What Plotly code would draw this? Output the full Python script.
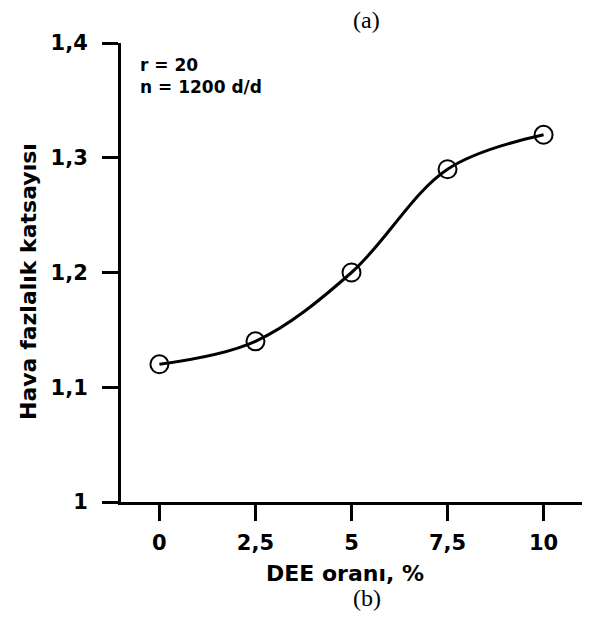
import plotly.graph_objects as go

# Data
dee_ratio = [0, 2.5, 5, 7.5, 10]
air_excess = [1.12, 1.14, 1.20, 1.29, 1.32]
x_tick_vals = [0, 2.5, 5, 7.5, 10]
x_tick_text = ["0", "2,5", "5", "7,5", "10"]
y_tick_vals = [1.0, 1.1, 1.2, 1.3, 1.4]
y_tick_text = ["1", "1,1", "1,2", "1,3", "1,4"]

SANS = "DejaVu Sans"
SERIF = "Liberation Serif"

fig = go.Figure()
fig.add_trace(go.Scatter(
    x=dee_ratio, y=air_excess,
    mode="lines+markers",
    line=dict(color="black", width=3, shape="spline", smoothing=1.0),
    marker=dict(symbol="circle-open", size=18, color="black",
                line=dict(color="black", width=2)),
    showlegend=False, cliponaxis=False,
))

fig.update_layout(
    width=583, height=611,
    margin=dict(l=113, r=9, t=34.5, b=116.5),
    paper_bgcolor="white", plot_bgcolor="white",
    font=dict(family=SANS, color="black"),
    xaxis=dict(
        range=[-1, 11], showgrid=False, zeroline=False,
        showline=True, linecolor="black", linewidth=3,
        ticks="outside", ticklen=16, tickwidth=3, tickcolor="black",
        tickvals=x_tick_vals, ticktext=x_tick_text,
        tickfont=dict(family=SANS, size=21, weight="bold"),
        ticklabelstandoff=4,
    ),
    yaxis=dict(
        range=[1, 1.4], showgrid=False, zeroline=False,
        showline=True, linecolor="black", linewidth=3,
        ticks="outside", ticklen=16, tickwidth=3, tickcolor="black",
        tickvals=y_tick_vals, ticktext=y_tick_text,
        tickfont=dict(family=SANS, size=21, weight="bold"),
        ticklabelstandoff=10,
    ),
    annotations=[
        dict(text="Hava fazlalık katsayısı", xref="paper", yref="paper",
             x=-0.1996, y=0.4815, textangle=-90, showarrow=False,
             xanchor="center", yanchor="middle",
             font=dict(family=SANS, size=22, weight="bold")),
        dict(text="DEE oranı, %", xref="paper", yref="paper",
             x=0.486, y=-0.155, showarrow=False,
             xanchor="center", yanchor="middle",
             font=dict(family=SANS, size=22, weight="bold")),
        dict(text="r = 20", xref="paper", yref="paper",
             x=0.0369, y=0.953, showarrow=False,
             xanchor="left", yanchor="middle",
             font=dict(family=SANS, size=17, weight="bold")),
        dict(text="n = 1200 d/d", xref="paper", yref="paper",
             x=0.0369, y=0.905, showarrow=False,
             xanchor="left", yanchor="middle",
             font=dict(family=SANS, size=17, weight="bold")),
        dict(text="(a)", xref="paper", yref="paper",
             x=(366 - 121) / 461, y=(502.5 - 19) / 460, showarrow=False,
             xanchor="center", yanchor="middle",
             font=dict(family=SERIF, size=24)),
        dict(text="(b)", xref="paper", yref="paper",
             x=(367 - 121) / 461, y=(502.5 - 599) / 460, showarrow=False,
             xanchor="center", yanchor="middle",
             font=dict(family=SERIF, size=24)),
    ],
)

fig.write_html("out.html")
